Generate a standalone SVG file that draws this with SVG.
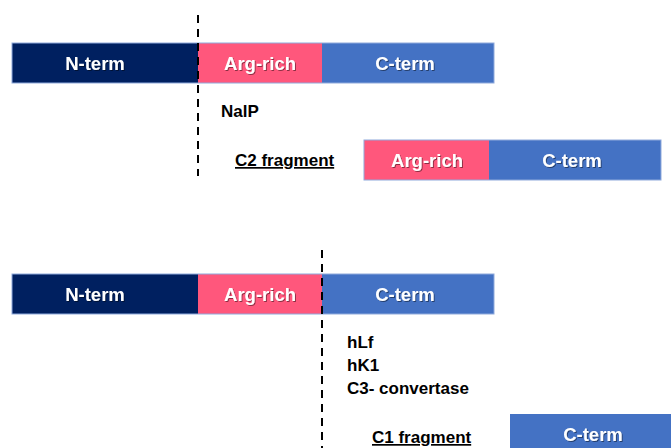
<svg xmlns="http://www.w3.org/2000/svg" width="671" height="448" viewBox="0 0 671 448">
<defs>
<filter id="sh" x="-10%" y="-20%" width="130%" height="150%">
<feDropShadow dx="1" dy="1" stdDeviation="0.6" flood-color="#000" flood-opacity="0.45"/>
</filter>
</defs>
<style>
.n{fill:#002060}
.a{fill:#FF577C}
.c{fill:#4472C4}
.bd{fill:none;stroke:#8FAADC;stroke-width:1}
.lb{font-family:"Liberation Sans",Arial,sans-serif;font-weight:bold;font-size:18.5px;fill:#fff;text-anchor:middle;filter:url(#sh)}
.tx{font-family:"Liberation Sans",Arial,sans-serif;font-weight:bold;font-size:17px;fill:#000}
.u{text-decoration:underline}
.cut{stroke:#000;stroke-width:2;stroke-dasharray:8,6;fill:none}
</style>
<g id="top-protein">
<rect class="n" x="12" y="43" width="186" height="40"/>
<rect class="a" x="198" y="43" width="124" height="40"/>
<rect class="c" x="322" y="43" width="172" height="40"/>
<rect class="bd" x="12" y="43" width="482" height="40"/>
<text class="lb" x="95" y="70">N-term</text>
<text class="lb" x="260" y="70">Arg-rich</text>
<text class="lb" x="405" y="70">C-term</text>
</g>
<g id="c2-fragment">
<rect class="a" x="364" y="140" width="125" height="40"/>
<rect class="c" x="489" y="140" width="172" height="40"/>
<rect class="bd" x="364" y="140" width="297" height="40"/>
<text class="lb" x="427" y="167">Arg-rich</text>
<text class="lb" x="572" y="167">C-term</text>
<text class="tx u" x="235" y="166">C2 fragment</text>
</g>
<g id="bottom-protein">
<rect class="n" x="12" y="274" width="186" height="40"/>
<rect class="a" x="198" y="274" width="124" height="40"/>
<rect class="c" x="322" y="274" width="172" height="40"/>
<rect class="bd" x="12" y="274" width="482" height="40"/>
<text class="lb" x="95" y="301">N-term</text>
<text class="lb" x="260" y="301">Arg-rich</text>
<text class="lb" x="405" y="301">C-term</text>
</g>
<g id="c1-fragment">
<rect class="c" x="510" y="414" width="170" height="40"/>
<text class="lb" x="593" y="441">C-term</text>
<text class="tx u" x="372" y="443">C1 fragment</text>
</g>
<g id="connectors">
<line class="cut" x1="198" y1="15" x2="198" y2="176"/>
<line class="cut" x1="322" y1="250" x2="322" y2="448"/>
</g>
<g id="labels">
<text class="tx" x="221" y="117">NalP</text>
<text class="tx" x="347" y="348">hLf</text>
<text class="tx" x="347" y="371">hK1</text>
<text class="tx" x="347" y="394">C3- convertase</text>
</g>
</svg>
